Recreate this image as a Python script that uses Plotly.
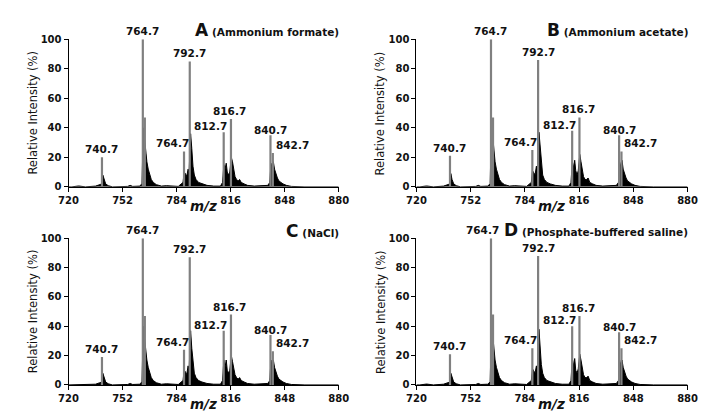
import plotly.graph_objects as go

# ---------------- data ----------------
MZ_TICKS = [720, 752, 784, 816, 848, 880]
INT_TICKS = [0, 20, 40, 60, 80, 100]
PANEL_LETTERS = ["A", "B", "C", "D"]
PANEL_MEDIA = ["(Ammonium formate)", "(Ammonium acetate)", "(NaCl)", "(Phosphate-buffered saline)"]

# main (grey) spikes, m/z positions shared by all panels
SPIKE_MZ = [739.8, 764.0, 765.2, 788.4, 791.8, 811.9, 816.2, 839.6, 841.0]
SPIKE_A = [20, 100, 47, 24, 85, 37, 46, 35, 23]
SPIKE_B = [21, 100, 47, 25, 86, 38, 47, 35, 24]
SPIKE_C = [19, 100, 47, 24, 87, 37, 48, 34, 23]
SPIKE_D = [21, 100, 48, 25, 88, 40, 47, 36, 25]

# peak labels and the spike each one belongs to
PEAK_LABELS = ["740.7", "764.7", "764.7", "792.7", "812.7", "816.7", "840.7", "842.7"]
PEAK_SPIKE = [0, 1, 3, 4, 5, 6, 7, 8]

# black profile envelope (m/z shared by all panels)
ENV_MZ = [720, 722, 726, 730, 736, 738.5, 739.8, 740.3, 741, 742, 743.5, 746,
          755, 756.5, 758, 762, 763.5, 764.3, 765, 765.7, 766.4, 767.2, 768, 769,
          770.2, 772, 775, 778, 785, 787.8, 788.5, 789.2, 790, 790.8, 791.4, 792.3,
          793, 793.7, 794.5, 795.5, 797, 799, 802, 806, 810, 811.2, 812, 812.7,
          813.4, 814, 814.8, 815.5, 816.4, 817.1, 817.8, 818.6, 819.5, 820.5, 821.3,
          822.3, 824, 826, 830, 835, 838, 839.2, 839.9, 840.5, 841.3, 842, 842.8,
          843.7, 844.6, 845.8, 847, 849, 852, 860, 880]
ENV_A = [0, 0, 0.6, 0, 0.5, 1.5, 2, 8, 5, 2, 0.8, 0,
         0.3, 1, 0.3, 0.5, 2, 40, 33, 24, 17, 12, 8, 5,
         3, 1.5, 0.5, 0.8, 0.3, 3, 10, 9, 7, 12, 10, 36,
         26, 14, 8, 5, 3, 2, 1, 0.5, 0.5, 3, 15, 12,
         16, 10, 8, 10, 20, 17, 11, 7, 5, 4, 5,
         3, 2, 1, 0.5, 0.7, 1, 3, 16, 13, 17, 12, 9,
         6, 4, 3, 2, 1, 0.3, 0, 0]
ENV_B = [0, 0, 0.6, 0, 0.5, 1.5, 2, 9, 5, 2, 0.8, 0,
         0.3, 1, 0.3, 0.5, 2, 43, 34, 25, 17, 12, 8, 5,
         3, 1.5, 0.5, 0.8, 0.3, 3, 11, 9, 8, 14, 11, 37,
         27, 14, 8, 5, 3, 2, 1, 0.5, 0.5, 3, 17, 13,
         18, 11, 8, 11, 22, 17, 12, 7, 5, 5, 6,
         3, 2, 1, 0.5, 0.7, 1, 3, 17, 14, 18, 12, 9,
         6, 4, 3, 2, 1, 0.3, 0, 0]
ENV_C = [0, 0, 0.5, 0, 0.5, 1.5, 2, 8, 5, 2, 0.8, 0,
         0.3, 1, 0.3, 0.5, 2, 40, 32, 24, 17, 12, 8, 5,
         3, 1.5, 0.5, 0.8, 0.3, 3, 10, 9, 7, 13, 10, 37,
         25, 14, 8, 5, 3, 2, 1, 0.5, 0.5, 3, 17, 12,
         17, 10, 8, 10, 20, 16, 11, 7, 5, 4, 5,
         3, 2, 1, 0.5, 0.7, 1, 3, 17, 13, 17, 12, 9,
         6, 4, 3, 2, 1, 0.3, 0, 0]
ENV_D = [0, 0, 0.6, 0, 0.5, 1.5, 2, 8, 5, 2, 0.8, 0,
         0.3, 1, 0.3, 0.5, 2, 40, 34, 25, 17, 12, 8, 5,
         3, 1.5, 0.5, 0.8, 0.3, 3, 11, 9, 8, 13, 11, 38,
         23, 14, 8, 5, 3, 2, 1, 0.5, 0.5, 3, 18, 13,
         18, 10, 8, 11, 21, 17, 12, 7, 5, 5, 6,
         3, 2, 1, 0.5, 0.7, 1, 3, 17, 14, 17, 12, 9,
         6, 4, 3, 2, 1, 0.3, 0, 0]

SPIKES = [SPIKE_A, SPIKE_B, SPIKE_C, SPIKE_D]
ENVS = [ENV_A, ENV_B, ENV_C, ENV_D]

# ---------------- layout ----------------
W, H = 709, 414
X_DOMAINS = [[52 / W, 330 / W], [410 / W, 689 / W], [52 / W, 330 / W], [410 / W, 689 / W]]
Y_DOMAINS = [[1 - 178 / H, 1 - 26 / H], [1 - 178 / H, 1 - 26 / H],
             [1 - 382 / H, 1 - 231 / H], [1 - 382 / H, 1 - 231 / H]]
TITLE_Y = [16, 16, 223, 222]

# label offsets (px) relative to spike top
LABEL_STYLE = [  # (xanchor, xshift, yshift)
    ("center", 0, 0), ("center", 0, 0), ("center", -12, 0), ("center", 0, 0),
    ("center", -13, -2), ("center", -1, 0), ("center", 0, -3), ("left", 1, 0),
]
MAIN_LABEL_XSHIFT = [0, 0, 0, -8]   # panel D has its 764.7 label pushed left of the title

FONT = "DejaVu Sans, Arial, sans-serif"

fig = go.Figure()
annotations = []
for p in range(4):
    xa = "x" if p == 0 else f"x{p + 1}"
    ya = "y" if p == 0 else f"y{p + 1}"
    # envelope
    fig.add_trace(go.Scatter(x=ENV_MZ, y=ENVS[p], mode="lines", fill="tozeroy",
                             line=dict(color="black", width=1), fillcolor="black",
                             xaxis=xa, yaxis=ya, hoverinfo="skip", showlegend=False))
    # grey spikes
    sx, sy = [], []
    for m, v in zip(SPIKE_MZ, SPIKES[p]):
        sx += [m, m, None]
        sy += [0, v, None]
    fig.add_trace(go.Scatter(x=sx, y=sy, mode="lines",
                             line=dict(color="#808080", width=2.2),
                             xaxis=xa, yaxis=ya, hoverinfo="skip", showlegend=False))
    tf = dict(family=FONT, size=10, color="#111", weight="bold")
    ax = dict(domain=X_DOMAINS[p], range=[720, 880], tickvals=MZ_TICKS,
              ticks="outside", ticklen=4, tickwidth=1, tickcolor="black",
              showline=True, linecolor="black", linewidth=1, showgrid=False,
              zeroline=False, tickfont=tf, anchor=ya)
    ay = dict(domain=Y_DOMAINS[p], range=[0, 100], tickvals=INT_TICKS,
              ticks="outside", ticklen=4, tickwidth=1, tickcolor="black",
              showline=True, linecolor="black", linewidth=1, showgrid=False,
              zeroline=False, tickfont=tf, anchor=xa)
    fig.update_layout(**{("xaxis" if p == 0 else f"xaxis{p + 1}"): ax,
                         ("yaxis" if p == 0 else f"yaxis{p + 1}"): ay})

    # peak labels
    for k, (lab, si, (xanc, xs, ys)) in enumerate(zip(PEAK_LABELS, PEAK_SPIKE, LABEL_STYLE)):
        if k == 1:
            xs += MAIN_LABEL_XSHIFT[p]
        annotations.append(dict(x=SPIKE_MZ[si], y=SPIKES[p][si], xref=xa, yref=ya,
                                text=f"<b>{lab}</b>", showarrow=False, xanchor=xanc, yanchor="bottom",
                                xshift=xs, yshift=ys,
                                font=dict(family=FONT, size=10.5, color="#111")))
    # panel title
    annotations.append(dict(x=X_DOMAINS[p][1] + 2 / W, y=1 - TITLE_Y[p] / H, xref="paper", yref="paper",
                            text=f"<b><span style='font-size:17px'>{PANEL_LETTERS[p]}</span> "
                                 f"<span style='font-size:10.5px'>{PANEL_MEDIA[p]}</span></b>",
                            showarrow=False, xanchor="right", yanchor="middle",
                            font=dict(family=FONT, size=11, color="#111")))
    # axis titles
    xc = (X_DOMAINS[p][0] + X_DOMAINS[p][1]) / 2
    ybot = Y_DOMAINS[p][0]
    annotations.append(dict(x=xc, y=ybot - 20 / H, xref="paper", yref="paper",
                            text="<b><i>m/z</i></b>", showarrow=False,
                            xanchor="center", yanchor="middle",
                            font=dict(family=FONT, size=13.5, color="#111")))
    yc = (Y_DOMAINS[p][0] + Y_DOMAINS[p][1]) / 2
    annotations.append(dict(x=X_DOMAINS[p][0] - 37 / W, y=yc, xref="paper", yref="paper",
                            text="Relative Intensity (%)", showarrow=False, textangle=-90,
                            xanchor="center", yanchor="middle",
                            font=dict(family=FONT, size=11.5, color="#111")))

fig.update_layout(width=W, height=H, margin=dict(l=0, r=0, t=0, b=0),
                  paper_bgcolor="white", plot_bgcolor="white",
                  annotations=annotations, showlegend=False)

fig.write_html("out.html")
